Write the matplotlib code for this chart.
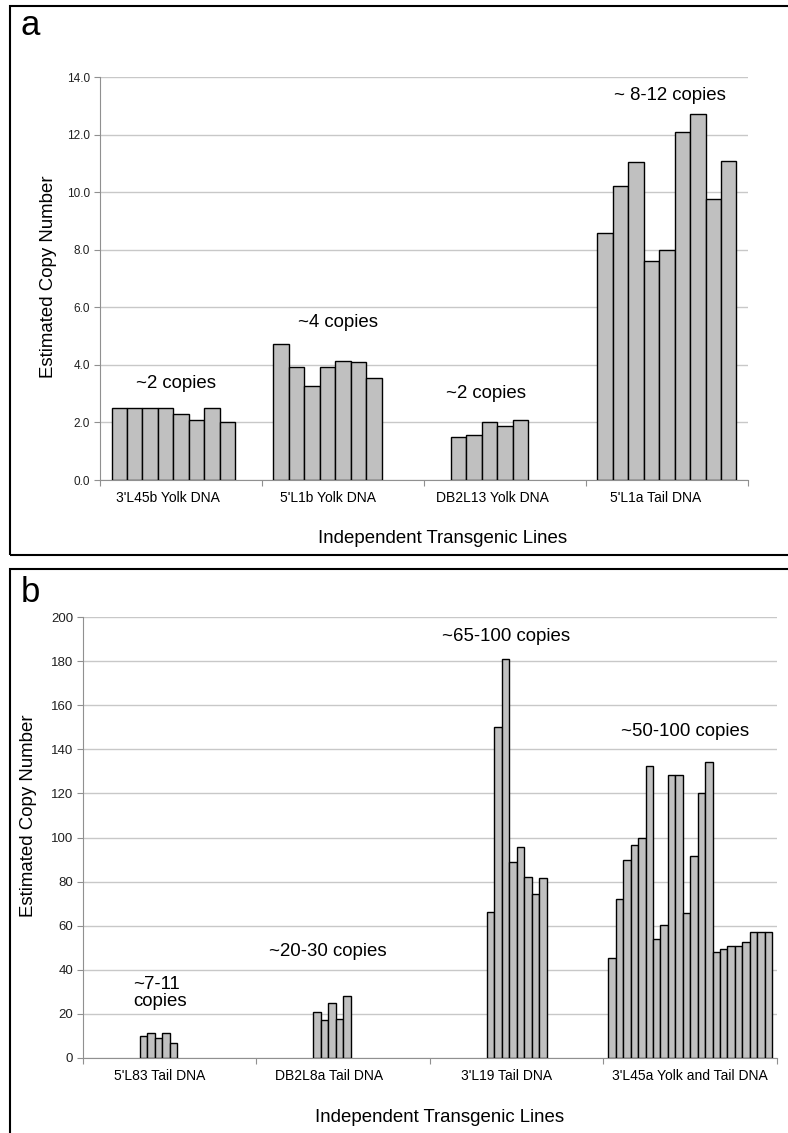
import numpy as np
import matplotlib.pyplot as plt
from matplotlib.patches import Rectangle

plt.rcParams['font.family'] = ['Liberation Sans', 'DejaVu Sans']

nan = np.nan

# panel a: copy numbers per line, one slot per bar position (9 slots per group)
cats_a = ["3'L45b Yolk DNA", "5'L1b Yolk DNA", "DB2L13 Yolk DNA", "5'L1a Tail DNA"]
vals_a = [
    [2.51, 2.50, 2.50, 2.51, 2.31, 2.09, 2.49, 2.03, nan],
    [4.71, 3.94, 3.28, 3.94, 4.14, 4.09, 3.53, nan, nan],
    [nan, 1.49, 1.56, 2.03, 1.89, 2.09, nan, nan, nan],
    [8.59, 10.23, 11.06, 7.62, 8.00, 12.08, 12.71, 9.77, 11.09],
]
notes_a = ["~2 copies", "~4 copies", "~2 copies", "~ 8-12 copies"]
note_pos_a = [(0.47, 3.37), (1.47, 5.49), (2.38, 3.02), (3.52, 13.37)]

# panel b: 22 slots per group
cats_b = ["5'L83 Tail DNA", "DB2L8a Tail DNA", "3'L19 Tail DNA", "3'L45a Yolk and Tail DNA"]
vals_b = [
    [nan] * 7 + [10.0, 11.5, 9.0, 11.2, 6.9] + [nan] * 10,
    [nan] * 7 + [20.7, 17.3, 25.0, 17.8, 28.1] + [nan] * 10,
    [nan] * 7 + [66.4, 150.0, 181.0, 88.8, 95.6, 82.0, 74.4, 81.5] + [nan] * 7,
    [45.5, 72.1, 89.8, 96.7, 100.0, 132.3, 53.9, 60.3, 128.5, 128.5, 65.9,
     91.8, 120.2, 134.1, 47.9, 49.4, 50.8, 50.8, 52.7, 57.0, 57.0, 57.0],
]
notes_b = ["~7-11\ncopies", "~20-30 copies", "~65-100 copies", "~50-100 copies"]
note_pos_b = [(0.29, 29.5), (1.41, 48.5), (2.44, 191), (3.47, 148)]


def draw_panel(ax, cats, vals, gap, ymax, ystep, fmt, notes, note_pos,
               tick_size, label_shift, ylab_y, xlab_xy):
    nslot = len(vals[0])
    w = 1.0 / (nslot + gap)
    off = (1 - nslot * w) / 2
    for c, row in enumerate(vals):
        xs = c + off + (np.arange(nslot) + 0.5) * w
        ax.bar(xs, row, width=w, color='#c0c0c0', edgecolor='black', linewidth=1.0, zorder=3)
    ax.set_xlim(0, len(cats))
    ax.set_ylim(0, ymax)
    ticks = np.arange(0, ymax + ystep / 2, ystep)
    ax.set_yticks(ticks)
    ax.set_yticklabels([fmt.format(v) for v in ticks])
    ax.yaxis.grid(True, color='#c8c8c8', linewidth=1.0, zorder=0)
    ax.set_axisbelow(True)
    ax.set_xticks(np.arange(len(cats) + 1))
    ax.set_xticklabels([])
    ax.set_xticks(np.arange(len(cats)) + 0.5 + np.array(label_shift), minor=True)
    ax.set_xticklabels(cats, minor=True, fontsize=10)
    ax.tick_params(axis='x', which='major', length=4, color='#909090')
    ax.tick_params(axis='x', which='minor', length=0, pad=8)
    ax.tick_params(axis='y', length=4, color='#909090', labelsize=tick_size, pad=3, labelcolor='#202020')
    for s in ['top', 'right']:
        ax.spines[s].set_visible(False)
    for s in ['left', 'bottom']:
        ax.spines[s].set_color('#909090')
    ax.set_ylabel("Estimated Copy Number", fontsize=13.4)
    ax.yaxis.set_label_coords(-0.066, ylab_y)
    ax.set_xlabel("Independent Transgenic Lines", fontsize=13.4)
    ax.xaxis.set_label_coords(*xlab_xy)
    for t, (x, y) in zip(notes, note_pos):
        ha = 'left' if '\n' in t else 'center'
        ax.text(x, y, t, ha=ha, va='center', fontsize=13.4, linespacing=1.0)


fig = plt.figure(figsize=(7.88, 11.33), dpi=100)

ax_a = fig.add_axes([0.1269, 0.5763, 0.8223, 0.3557])
draw_panel(ax_a, cats_a, vals_a, 1.49, 14, 2, "{:.1f}", notes_a, note_pos_a,
           8.5, [-0.08, -0.09, -0.075, -0.07], 0.505, (0.528, -0.125))

ax_b = fig.add_axes([0.1053, 0.0662, 0.8807, 0.3892])
draw_panel(ax_b, cats_b, vals_b, 1.29, 200, 20, "{:.0f}", notes_b, note_pos_b,
           9.5, [-0.06, -0.08, -0.06, 0.0], 0.55, (0.514, -0.115))

# panel frames and letters
fig.patches.append(Rectangle((10 / 788, 1 - 555 / 1133), 0.99, 549 / 1133, transform=fig.transFigure,
                             fill=False, edgecolor='black', linewidth=1.5))
fig.patches.append(Rectangle((10 / 788, -0.01), 0.99, 1 - 569 / 1133 + 0.01, transform=fig.transFigure,
                             fill=False, edgecolor='black', linewidth=1.5))
fig.text(21 / 788, 1 - 35 / 1133, "a", fontsize=25, va='baseline')
fig.text(21 / 788, 1 - 602 / 1133, "b", fontsize=25, va='baseline')

fig.savefig("out.png", dpi=100)
